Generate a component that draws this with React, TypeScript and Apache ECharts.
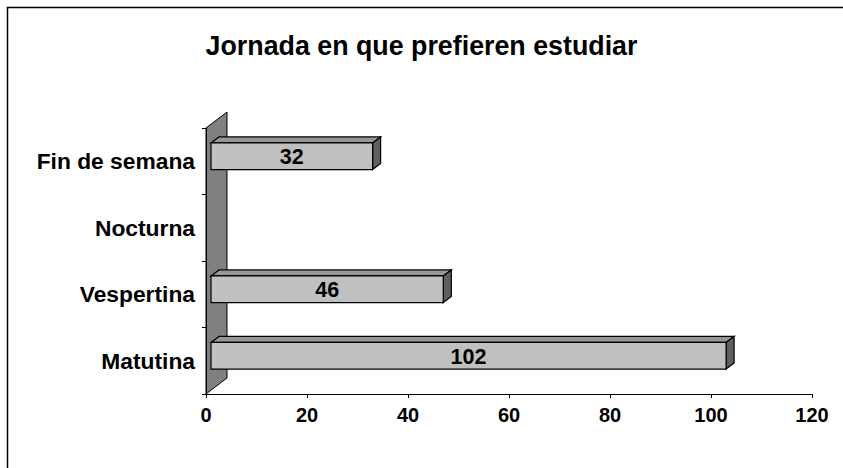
import React, { useEffect, useRef } from "react";
import * as echarts from "echarts";

const TITLE = "Jornada en que prefieren estudiar";
const categories = ["Matutina", "Vespertina", "Nocturna", "Fin de semana"];
const values: (number | null)[] = [102, 46, null, 32];
const xTicks = { min: 0, max: 120, interval: 20 };

const FONT = '"Liberation Sans", Arial, Helvetica, sans-serif';
const GRID = { left: 206, right: 31, top: 128, bottom: 74 };
const W = 843;
const H = 468;
const WALL_DX = 21;
const WALL_DY = -16;
const BAR_OFF_X = 5;
const BAR_OFF_Y = -5;
const BAR_DX = 8;
const BAR_DY = -6;

export default function App() {
  const ref = useRef<HTMLDivElement>(null);
  useEffect(() => {
    if (!ref.current) return;
    const chart = echarts.init(ref.current, null, { renderer: "svg" });
    const gl = GRID.left;
    const gb = H - GRID.bottom;
    const gt = GRID.top;
    const option: any = {
      animation: false,
      backgroundColor: "#fff",
      title: {
        text: TITLE,
        left: "center",
        top: 27,
        textStyle: { fontFamily: FONT, fontWeight: "bold", fontSize: 26.8, color: "#000" },
      },
      grid: { ...GRID, containLabel: false },
      xAxis: {
        type: "value",
        ...xTicks,
        splitLine: { show: false },
        axisLine: { show: true, lineStyle: { color: "#000", width: 1 } },
        axisTick: { show: true, length: 4, lineStyle: { color: "#000" } },
        axisLabel: {
          margin: 11,
          fontFamily: FONT,
          fontWeight: "bold",
          fontSize: 20,
          color: "#000",
        },
      },
      yAxis: {
        type: "category",
        data: categories,
        axisLine: { show: true, lineStyle: { color: "#000", width: 1 } },
        axisTick: { show: true, length: 4, lineStyle: { color: "#000" } },
        axisLabel: {
          margin: 11,
          fontFamily: FONT,
          fontWeight: "bold",
          fontSize: 22.8,
          color: "#000",
        },
      },
      graphic: [
        {
          type: "rect",
          z: 100,
          shape: { x: 7.5, y: 7.5, width: 1000, height: 1000 },
          style: { fill: "none", stroke: "#000", lineWidth: 1.5 },
          silent: true,
        },
        {
          type: "polygon",
          z: 0,
          shape: {
            points: [
              [gl, gt],
              [gl + WALL_DX, gt + WALL_DY],
              [gl + WALL_DX, gb + WALL_DY],
              [gl, gb],
            ],
          },
          style: { fill: "#808080", stroke: "#000", lineWidth: 1 },
          silent: true,
        },
      ],
      series: [
        {
          type: "custom",
          z: 5,
          encode: { x: 0, y: 1 },
          data: values.map((v, i) => [v == null ? "-" : v, i]),
          renderItem: (params: any, api: any) => {
            const v = api.value(0);
            const c = api.value(1);
            if (v == null || isNaN(v)) return null;
            const p0 = api.coord([0, c]);
            const p1 = api.coord([v, c]);
            const band = api.size([0, 1])[1];
            const h = band * 0.4;
            const xL = p0[0] + BAR_OFF_X;
            const xR = p1[0] + BAR_OFF_X;
            const cy = p0[1] + BAR_OFF_Y;
            const yT = cy - h / 2;
            const yB = cy + h / 2;
            return {
              type: "group",
              children: [
                {
                  type: "polygon",
                  shape: { points: [[xL, yT], [xL + BAR_DX, yT + BAR_DY], [xR + BAR_DX, yT + BAR_DY], [xR, yT]] },
                  style: { fill: "#969696", stroke: "#000", lineWidth: 1.2 },
                },
                {
                  type: "polygon",
                  shape: { points: [[xR, yT], [xR + BAR_DX, yT + BAR_DY], [xR + BAR_DX, yB + BAR_DY], [xR, yB]] },
                  style: { fill: "#606060", stroke: "#000", lineWidth: 1.2 },
                },
                {
                  type: "rect",
                  shape: { x: xL, y: yT, width: xR - xL, height: h },
                  style: { fill: "#C0C0C0", stroke: "#000", lineWidth: 1.2 },
                },
                {
                  type: "text",
                  style: {
                    text: String(v),
                    x: (xL + xR) / 2,
                    y: cy + 1,
                    align: "center",
                    verticalAlign: "middle",
                    fontFamily: FONT,
                    fontWeight: "bold",
                    fontSize: 21.5,
                    fill: "#000",
                  },
                },
              ],
            };
          },
        },
      ],
    };
    chart.setOption(option);
    return () => chart.dispose();
  }, []);
  return (
    <div
      ref={ref}
      style={{ position: "absolute", left: 0, top: 0, width: W, height: H }}
    />
  );
}
